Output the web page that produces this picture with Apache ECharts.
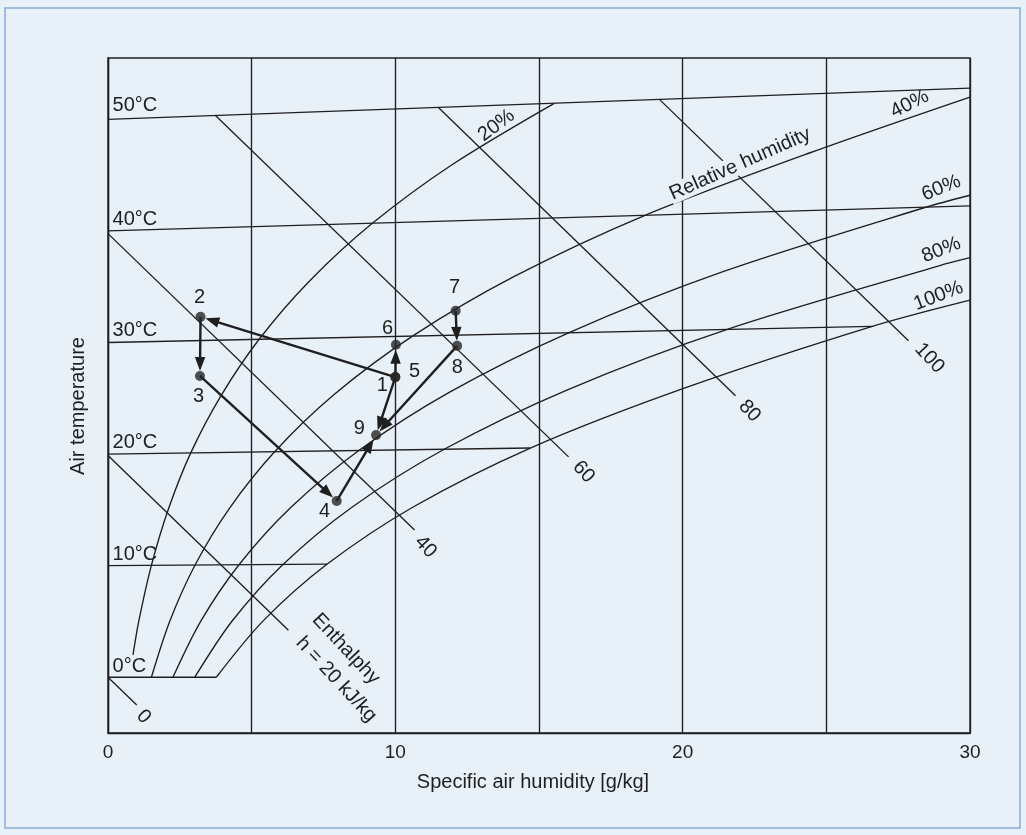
<!DOCTYPE html>
<html>
<head>
<meta charset="utf-8">
<script src="https://cdn.jsdelivr.net/npm/echarts@6/dist/echarts.min.js"></script>
<style>
  html, body { margin: 0; padding: 0; background: #e8f0f8; }
  #chart { width: 1026px; height: 835px; }
</style>
</head>
<body>
<div id="chart"></div>
<script>
// Mollier h-x diagram of humid air with an air-handling process drawn on it.
// Horizontal: specific humidity x [g/kg]; vertical: air temperature scale
// (isotherms tilt upward slightly as x grows).

const xTicks = [0, 10, 20, 30];

// Isotherms, each as [start, end] in [x, temperature-scale]
const isothermNames = ['0°C', '10°C', '20°C', '30°C', '40°C', '50°C'];
const isotherm0  = [[0, 0],  [3.77, 0]];
const isotherm10 = [[0, 10], [7.63, 10.14]];
const isotherm20 = [[0, 20], [14.70, 20.54]];
const isotherm30 = [[0, 30], [26.6, 31.45]];
const isotherm40 = [[0, 40], [30, 42.25]];
const isotherm50 = [[0, 50], [30, 52.8]];

// Relative humidity curves
const rhNames = ['20%', '40%', '60%', '80%', '100%'];
const rh20  = [[0.87, 2.0], [1.07, 5.01], [1.51, 10.03], [2.10, 15.06], [2.88, 20.11], [3.92, 25.18],
               [5.26, 30.29], [6.99, 35.45], [9.20, 40.68], [12.01, 46.0], [15.53, 51.44]];
const rh40  = [[1.51, 0], [2.15, 5.02], [3.03, 10.06], [4.22, 15.12], [5.80, 20.21], [7.88, 25.36],
               [10.61, 30.59], [14.14, 35.92], [18.67, 41.38], [24.46, 47.03], [30, 52.0]];
const rh60  = [[2.26, 0], [3.23, 5.03], [4.56, 10.08], [6.35, 15.18], [8.73, 20.32], [11.89, 25.55],
               [16.05, 30.89], [21.45, 36.39], [28.43, 42.10], [30, 43.2]];
const rh80  = [[3.02, 0], [4.32, 5.04], [6.09, 10.11], [8.49, 15.24], [11.70, 20.43], [15.97, 25.74],
               [21.58, 31.2], [28.92, 36.87], [30, 37.6]];
const rh100 = [[3.77, 0], [5.40, 5.05], [7.63, 10.14], [10.65, 15.30], [14.70, 20.54], [20.08, 25.93],
               [26.6, 31.45], [30, 33.8]];

// Lines of constant enthalpy h [kJ/kg]
const enthalpyNames = ['0', '20', '40', '60', '80', '100'];
const enthalpy0   = [[0, 0],        [1.0, -2.5]];
const enthalpy20  = [[0, 19.88],    [6.28, 4.2]];
const enthalpy40  = [[0, 39.76],    [10.67, 13.2]];
const enthalpy60  = [[3.74, 50.35], [16.03, 19.75]];
const enthalpy80  = [[11.5, 51.06], [21.84, 25.23]];
const enthalpy100 = [[19.2, 51.77], [27.86, 30.16]];

// Air states of the process (state 5 coincides with state 1)
const stateIds = ['1', '2', '3', '4', '5', '6', '7', '8', '9'];
const stateX   = [10.0, 3.22, 3.2, 7.96, 10.0, 10.02, 12.1, 12.15, 9.33];
const stateY   = [26.9, 32.3, 27.0, 15.8, 26.9, 29.8, 32.85, 29.7, 21.7];

// Process steps, from state -> to state
const processSteps = [['1', '2'], ['2', '3'], ['3', '4'], ['4', '9'],
                      ['5', '6'], ['5', '9'], ['7', '8'], ['8', '9']];

// Text annotations placed in chart units
const noteTexts = ['50°C', '40°C', '30°C', '20°C', '10°C', '0°C',
                   '20%', '40%', '60%', '80%', '100%', 'Relative humidity',
                   '0', '40', '60', '80', '100', 'Enthalphy', 'h = 20 kJ/kg',
                   '1', '2', '3', '4', '5', '6', '7', '8', '9'];
const noteX = [0.16, 0.16, 0.16, 0.16, 0.16, 0.16,
               13.52, 27.9, 29.0, 29.0, 28.9, 22.0,
               1.24, 11.05, 16.55, 22.33, 28.59, 8.28, 7.94,
               9.55, 3.19, 3.15, 7.54, 10.67, 9.73, 12.06, 12.16, 8.75];
const noteY = [51.28, 41.02, 31.12, 21.08, 10.96, 0.97,
               49.46, 51.37, 43.84, 38.29, 34.17, 46.0,
               -3.55, 11.68, 18.4, 23.86, 28.6, 2.53, -0.2,
               26.19, 34.0, 25.12, 14.82, 27.36, 31.3, 34.97, 27.72, 22.33];
const noteAngle = [0, 0, 0, 0, 0, 0,
                   37, 27, 22, 22, 21, 24,
                   -47, -47, -47, -47, -47, -47, -47,
                   0, 0, 0, 0, 0, 0, 0, 0, 0];

const INK = '#1f1f1f';
const BG = '#e8f0f8';
const FONT = '"Liberation Sans", Arial, Helvetica, sans-serif';

function lineSeries(name, data, smooth) {
  return {
    name, type: 'line', data, smooth: smooth ? 0.3 : false,
    symbol: 'none', silent: true, z: 2,
    lineStyle: { color: INK, width: 1.35 }
  };
}

const series = [];
[isotherm0, isotherm10, isotherm20, isotherm30, isotherm40, isotherm50]
  .forEach((d, i) => series.push(lineSeries('T ' + isothermNames[i], d, false)));
[rh20, rh40, rh60, rh80, rh100]
  .forEach((d, i) => series.push(lineSeries('RH ' + rhNames[i], d, true)));
[enthalpy0, enthalpy20, enthalpy40, enthalpy60, enthalpy80, enthalpy100]
  .forEach((d, i) => series.push(lineSeries('h ' + enthalpyNames[i], d, false)));

// Process arrows
const stepData = processSteps.map(([a, b]) => {
  const i = stateIds.indexOf(a), j = stateIds.indexOf(b);
  return [stateX[i], stateY[i], stateX[j], stateY[j]];
});
series.push({
  type: 'custom', name: 'process', z: 5, silent: true,
  data: stepData,
  renderItem(params, api) {
    const p = api.coord([api.value(0), api.value(1)]);
    const q = api.coord([api.value(2), api.value(3)]);
    const dx = q[0] - p[0], dy = q[1] - p[1];
    const len = Math.hypot(dx, dy);
    const ux = dx / len, uy = dy / len;
    const tip = [q[0] - ux * 5, q[1] - uy * 5];
    const headLen = 14, headW = 5.2;
    const base = [tip[0] - ux * headLen, tip[1] - uy * headLen];
    const left = [base[0] - uy * headW, base[1] + ux * headW];
    const right = [base[0] + uy * headW, base[1] - ux * headW];
    return {
      type: 'group',
      children: [
        { type: 'line', shape: { x1: p[0], y1: p[1], x2: base[0] + ux * 3, y2: base[1] + uy * 3 },
          style: { stroke: INK, lineWidth: 2.4 } },
        { type: 'polygon', shape: { points: [tip, left, right] }, style: { fill: INK } }
      ]
    };
  }
});

// State points
series.push({
  type: 'scatter', name: 'states', z: 6, silent: true,
  data: stateX.map((x, i) => [x, stateY[i]]),
  symbol: 'circle', symbolSize: 10,
  itemStyle: { color: '#262626' }
});

// Annotations
series.push({
  type: 'custom', name: 'notes', z: 7, silent: true,
  data: noteX.map((x, i) => [x, noteY[i], i]),
  renderItem(params, api) {
    const i = api.value(2);
    const c = api.coord([api.value(0), api.value(1)]);
    const leftAligned = i < 6;
    const txt = noteTexts[i];
    const style = {
      text: txt, fill: INK, font: '20px ' + FONT,
      align: leftAligned ? 'left' : 'center', verticalAlign: 'middle'
    };
    if (txt === 'Relative humidity') {
      style.backgroundColor = BG;
      style.padding = [0, 1];
    }
    return {
      type: 'text', x: c[0], y: c[1],
      rotation: noteAngle[i] * Math.PI / 180,
      style
    };
  }
});

const chart = echarts.init(document.getElementById('chart'), null, { renderer: 'canvas' });
chart.setOption({
  backgroundColor: BG,
  animation: false,
  grid: { left: 108, right: 56, top: 58, bottom: 102, show: true,
          borderColor: INK, borderWidth: 1.35, backgroundColor: 'transparent' },
  xAxis: {
    type: 'value', min: 0, max: 30, interval: 5,
    axisLine: { show: true, onZero: false, lineStyle: { color: INK, width: 1.35 } },
    axisTick: { show: false },
    splitLine: { show: true, lineStyle: { color: INK, width: 1.35 } },
    axisLabel: {
      formatter: v => (xTicks.includes(v) ? String(v) : ''),
      color: INK, fontSize: 19, fontFamily: FONT, margin: 10
    }
  },
  yAxis: {
    type: 'value', min: -5, max: 55.5,
    axisLine: { show: true, onZero: false, lineStyle: { color: INK, width: 1.35 } },
    axisTick: { show: false }, axisLabel: { show: false },
    splitLine: { show: false }
  },
  graphic: [
    { type: 'rect', shape: { x: 5, y: 8, width: 1015, height: 820 },
      style: { fill: 'none', stroke: '#86acd6', lineWidth: 1.5 }, silent: true, z: -1 },
    { type: 'text', x: 533, y: 782,
      style: { text: 'Specific air humidity [g/kg]', font: '20px ' + FONT, fill: INK,
               align: 'center', verticalAlign: 'middle' } },
    { type: 'text', x: 78, y: 406, rotation: Math.PI / 2,
      style: { text: 'Air temperature', font: '20px ' + FONT, fill: INK,
               align: 'center', verticalAlign: 'middle' } }
  ],
  series
});
</script>
</body>
</html>
